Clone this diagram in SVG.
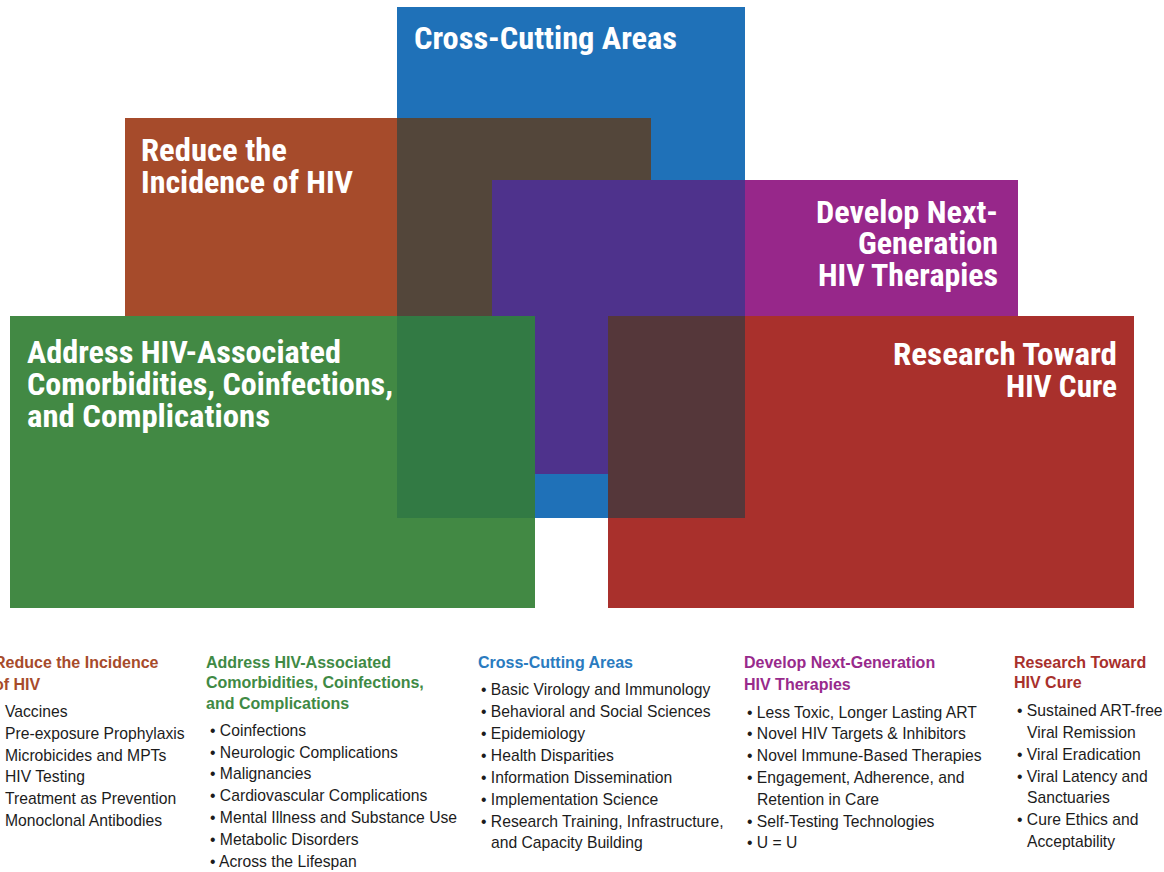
<svg xmlns="http://www.w3.org/2000/svg" width="1164" height="872" viewBox="0 0 1164 872">
<style>
.t{font-family:"Liberation Sans Narrow","Roboto Condensed","DejaVu Sans Condensed","Liberation Sans",sans-serif;font-stretch:condensed;font-weight:bold;font-size:32px;fill:#ffffff}
.h{font-family:"Liberation Sans",Arial,sans-serif;font-weight:bold;font-size:16px}
.i{font-family:"Liberation Sans",Arial,sans-serif;font-size:15.7px;fill:#1c1c1c}
.or{fill:#a74b2b}.gr{fill:#3f8a45}.bl{fill:#2a7bbf}.pu{fill:#982a8c}.rd{fill:#a8302c}
</style>
<rect width="1164" height="872" fill="#ffffff"/>
<g id="shapes">
<rect id="blue-base" x="397" y="7" width="348" height="511" fill="#1f71b8"/>
<rect id="orange-base" x="125" y="118" width="526" height="198" fill="#a64b2b"/>
<rect id="purple-base" x="492" y="180" width="526" height="294" fill="#97278a"/>
<rect id="green-base" x="10" y="316" width="525" height="292" fill="#428944"/>
<rect id="red-base" x="608" y="316" width="526" height="292" fill="#a9302c"/>
<rect id="orange-blue" x="397" y="118" width="254" height="198" fill="#53463a"/>
<rect id="purple-blue" x="492" y="180" width="253" height="294" fill="#4e328c"/>
<rect id="green-blue" x="397" y="316" width="138" height="202" fill="#327a44"/>
<rect id="red-blue" x="608" y="316" width="137" height="202" fill="#55373a"/>
</g>
<g id="node-cross-cutting">
<text class="t" x="414" y="49" textLength="263" lengthAdjust="spacingAndGlyphs">Cross-Cutting Areas</text>
</g>
<g id="node-reduce">
<text class="t" x="141" y="161" textLength="146" lengthAdjust="spacingAndGlyphs">Reduce the</text>
<text class="t" x="141" y="193" textLength="212" lengthAdjust="spacingAndGlyphs">Incidence of HIV</text>
</g>
<g id="node-develop">
<text class="t" x="816" y="223" textLength="182" lengthAdjust="spacingAndGlyphs">Develop Next-</text>
<text class="t" x="858" y="254" textLength="140" lengthAdjust="spacingAndGlyphs">Generation</text>
<text class="t" x="818" y="286" textLength="180" lengthAdjust="spacingAndGlyphs">HIV Therapies</text>
</g>
<g id="node-address">
<text class="t" x="27" y="363" textLength="314" lengthAdjust="spacingAndGlyphs">Address HIV-Associated</text>
<text class="t" x="27" y="395" textLength="366" lengthAdjust="spacingAndGlyphs">Comorbidities, Coinfections,</text>
<text class="t" x="27" y="427" textLength="243" lengthAdjust="spacingAndGlyphs">and Complications</text>
</g>
<g id="node-cure">
<text class="t" x="893" y="365" textLength="224" lengthAdjust="spacingAndGlyphs">Research Toward</text>
<text class="t" x="1006" y="397" textLength="111" lengthAdjust="spacingAndGlyphs">HIV Cure</text>
</g>
<g id="connectors"></g>
<g id="list-reduce">
<text class="h or" x="-6" y="668">Reduce the Incidence</text>
<text class="h or" x="-6" y="690">of HIV</text>
<text class="i" x="5" y="717">Vaccines</text>
<text class="i" x="5" y="739">Pre-exposure Prophylaxis</text>
<text class="i" x="5" y="761">Microbicides and MPTs</text>
<text class="i" x="5" y="782">HIV Testing</text>
<text class="i" x="5" y="804">Treatment as Prevention</text>
<text class="i" x="5" y="826">Monoclonal Antibodies</text>
</g>
<g id="list-address">
<text class="h gr" x="206" y="668">Address HIV-Associated</text>
<text class="h gr" x="206" y="688">Comorbidities, Coinfections,</text>
<text class="h gr" x="206" y="709">and Complications</text>
<text class="i" x="210" y="736">• Coinfections</text>
<text class="i" x="210" y="758">• Neurologic Complications</text>
<text class="i" x="210" y="779">• Malignancies</text>
<text class="i" x="210" y="801">• Cardiovascular Complications</text>
<text class="i" x="210" y="823">• Mental Illness and Substance Use</text>
<text class="i" x="210" y="845">• Metabolic Disorders</text>
<text class="i" x="210" y="867">• Across the Lifespan</text>
</g>
<g id="list-cross">
<text class="h bl" x="478" y="668">Cross-Cutting Areas</text>
<text class="i" x="481" y="695">• Basic Virology and Immunology</text>
<text class="i" x="481" y="717">• Behavioral and Social Sciences</text>
<text class="i" x="481" y="739">• Epidemiology</text>
<text class="i" x="481" y="761">• Health Disparities</text>
<text class="i" x="481" y="783">• Information Dissemination</text>
<text class="i" x="481" y="805">• Implementation Science</text>
<text class="i" x="481" y="827">• Research Training, Infrastructure,</text>
<text class="i" x="491" y="848">and Capacity Building</text>
</g>
<g id="list-develop">
<text class="h pu" x="744" y="668">Develop Next-Generation</text>
<text class="h pu" x="744" y="690">HIV Therapies</text>
<text class="i" x="747" y="718">• Less Toxic, Longer Lasting ART</text>
<text class="i" x="747" y="739">• Novel HIV Targets &amp; Inhibitors</text>
<text class="i" x="747" y="761">• Novel Immune-Based Therapies</text>
<text class="i" x="747" y="783">• Engagement, Adherence, and</text>
<text class="i" x="757" y="805">Retention in Care</text>
<text class="i" x="747" y="827">• Self-Testing Technologies</text>
<text class="i" x="747" y="848">• U = U</text>
</g>
<g id="list-cure">
<text class="h rd" x="1014" y="668">Research Toward</text>
<text class="h rd" x="1014" y="688">HIV Cure</text>
<text class="i" x="1017" y="716">• Sustained ART-free</text>
<text class="i" x="1027" y="738">Viral Remission</text>
<text class="i" x="1017" y="760">• Viral Eradication</text>
<text class="i" x="1017" y="782">• Viral Latency and</text>
<text class="i" x="1027" y="803">Sanctuaries</text>
<text class="i" x="1017" y="825">• Cure Ethics and</text>
<text class="i" x="1027" y="847">Acceptability</text>
</g>
</svg>
